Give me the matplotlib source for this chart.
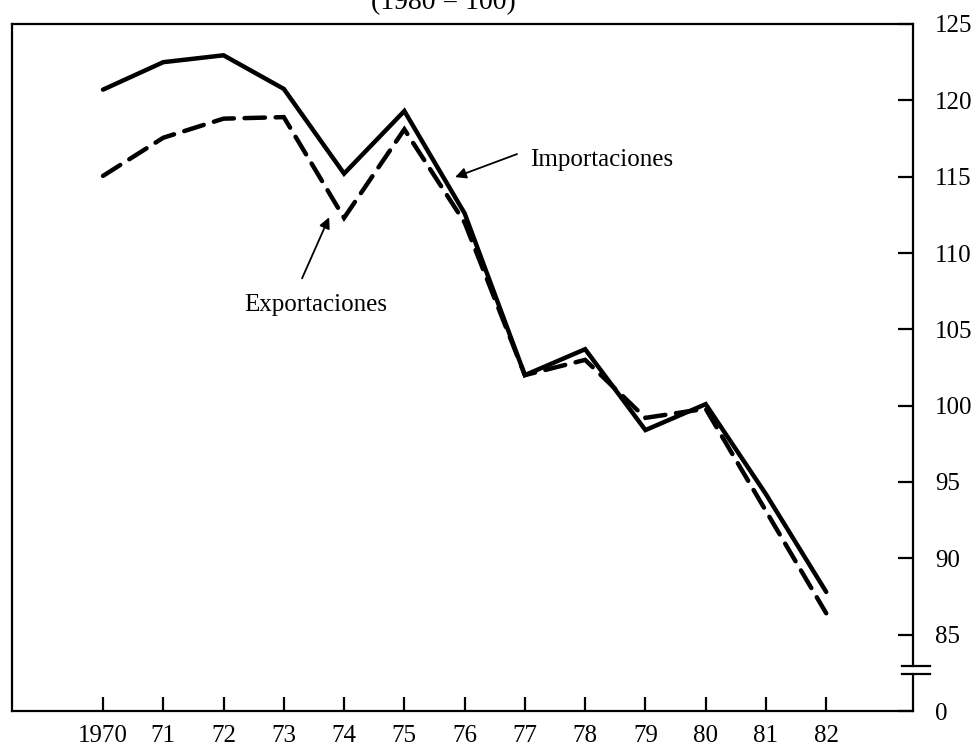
import matplotlib
matplotlib.use("Agg")
import matplotlib.pyplot as plt
from matplotlib.ticker import FixedLocator

years = [1970, 1971, 1972, 1973, 1974, 1975, 1976, 1977, 1978, 1979, 1980, 1981, 1982]
year_labels = ["1970", "71", "72", "73", "74", "75", "76", "77", "78", "79", "80", "81", "82"]
importaciones = [120.7, 122.5, 122.95, 120.75, 115.2, 119.3, 112.6, 102.0, 103.7, 98.4, 100.1, 94.2, 87.8]
exportaciones = [115.05, 117.55, 118.8, 118.9, 112.3, 118.1, 112.0, 102.0, 103.0, 99.2, 99.8, 93.1, 86.4]
y_ticks = [80, 85, 90, 95, 100, 105, 110, 115, 120, 125]
y_tick_labels = ["0", "85", "90", "95", "100", "105", "110", "115", "120", "125"]

plt.rcParams['font.family'] = ['Liberation Serif', 'DejaVu Serif']

fig = plt.figure(figsize=(9.71, 7.47), dpi=100)
ax = fig.add_axes([12/971, 1-711/747, 901/971, 687/747])

ax.plot(years, importaciones, color='black', lw=3.2, solid_joinstyle='miter',
        solid_capstyle='round')
ax.plot(years, exportaciones, color='black', lw=3.2, dashes=(4.6, 2.4),
        dash_capstyle='round', dash_joinstyle='miter')

ax.set_xlim(1968.49, 1983.44)
ax.set_ylim(80, 125)

# spines
for s in ['left', 'top', 'bottom']:
    ax.spines[s].set_linewidth(1.6)
ax.spines['right'].set_visible(False)
tr = ax.get_yaxis_transform()
ax.plot([1, 1], [80, 82.44], transform=tr, color='black', lw=1.6, clip_on=False,
        solid_capstyle='projecting')
ax.plot([1, 1], [82.97, 125], transform=tr, color='black', lw=1.6, clip_on=False,
        solid_capstyle='projecting')
for yb in (82.44, 82.97):
    ax.plot([0.9878, 1.0189], [yb, yb], transform=tr,
            color='black', lw=1.6, clip_on=False)

# x ticks
ax.xaxis.set_major_locator(FixedLocator(years))
ax.set_xticklabels(year_labels)
ax.xaxis.set_minor_locator(FixedLocator([1970, 1975, 1980]))
ax.tick_params(axis='x', which='major', direction='in', length=10, width=1.6,
               labelsize=18, pad=10)
ax.tick_params(axis='x', which='minor', direction='in', length=18, width=1.6)

# y ticks on right
ax.yaxis.tick_right()
ax.yaxis.set_major_locator(FixedLocator(y_ticks))
ax.set_yticklabels(y_tick_labels)
ax.tick_params(axis='y', which='major', direction='in', length=11, width=1.6,
               labelsize=18, pad=16, left=False, right=True)

# annotations
ax.annotate('', xy=(1975.843, 114.97), xytext=(1976.87, 116.48),
            arrowprops=dict(arrowstyle='-|>', lw=1.3, color='black',
                            mutation_scale=16, shrinkA=0, shrinkB=0))
ax.text(1977.09, 116.08, 'Importaciones', fontsize=18, ha='left', va='center')
ax.annotate('', xy=(1973.752, 112.34), xytext=(1973.303, 108.34),
            arrowprops=dict(arrowstyle='-|>', lw=1.3, color='black',
                            mutation_scale=16, shrinkA=0, shrinkB=0))
ax.text(1972.34, 106.57, 'Exportaciones', fontsize=18, ha='left', va='center')

fig.text(443/971, 1-9/747, '(1980 = 100)', fontsize=20, ha='center', va='baseline')

fig.savefig('out.png', dpi=100)
